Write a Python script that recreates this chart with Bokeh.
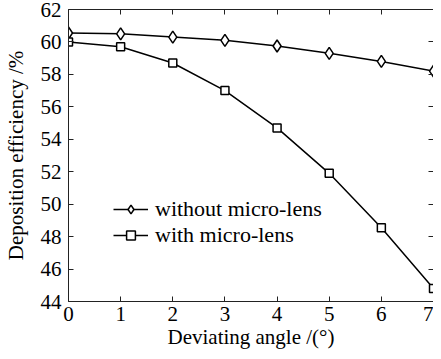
from bokeh.plotting import figure
from bokeh.models import LinearAxis, Range1d, Legend, LegendItem, FixedTicker, CustomJSTickFormatter
from bokeh.embed import file_html
from bokeh.resources import INLINE

angles = [0, 1, 2, 3, 4, 5, 6, 7]
without_lens = [60.55, 60.5, 60.3, 60.1, 59.75, 59.3, 58.8, 58.2]
with_lens = [60.0, 59.7, 58.7, 57.0, 54.7, 51.9, 48.55, 44.8]
x_ticks = [0, 1, 2, 3, 4, 5, 6, 7]
y_ticks = [44, 46, 48, 50, 52, 54, 56, 58, 60, 62]

FONT = "Liberation Serif"

p = figure(width=433, height=351, output_backend="svg", toolbar_location=None,
           x_range=Range1d(0, 7), y_range=Range1d(44, 62),
           min_border_left=60, min_border_right=0, min_border_top=9, min_border_bottom=0,
           x_axis_label="Deviating angle /(°)", y_axis_label="Deposition efficiency /%")
p.outline_line_color = None
p.xgrid.visible = False
p.ygrid.visible = False
p.background_fill_color = "white"
p.border_fill_color = "white"

for ax in (p.xaxis[0], p.yaxis[0]):
    ax.major_tick_in = 5
    ax.major_tick_out = 0
    ax.minor_tick_line_color = None
    ax.axis_line_color = "#222222"
    ax.major_tick_line_color = "#222222"
    ax.major_label_text_font = FONT
    ax.major_label_text_font_size = "21px"
    ax.major_label_text_color = "black"
    ax.axis_label_text_font = FONT
    ax.axis_label_text_font_size = "21px"
    ax.axis_label_text_font_style = "normal"
    ax.axis_label_text_color = "black"
p.xaxis[0].ticker = FixedTicker(ticks=x_ticks)
p.yaxis[0].ticker = FixedTicker(ticks=y_ticks)
p.xaxis[0].major_label_standoff = 5
p.yaxis[0].major_label_standoff = 7
p.xaxis[0].axis_label_standoff = 1
p.yaxis[0].axis_label_standoff = 10

blank = CustomJSTickFormatter(code="return ''")
for side, ticks, standoff in (("above", x_ticks, 6), ("right", y_ticks, 0)):
    ax = LinearAxis(ticker=FixedTicker(ticks=ticks), major_tick_in=5, major_tick_out=0,
                    minor_tick_line_color=None, formatter=blank,
                    major_label_text_font_size="1px",
                    major_label_standoff=standoff, axis_line_color="#222222",
                    major_tick_line_color="#222222")
    p.add_layout(ax, side)

l1 = p.line(angles, without_lens, line_color="black", line_width=1.5)
k1 = p.scatter(angles, without_lens, marker="diamond", size=12, fill_color="white",
               line_color="black", line_width=1.5)
l2 = p.line(angles, with_lens, line_color="black", line_width=1.5)
k2 = p.scatter(angles, with_lens, marker="square", size=8, fill_color="white",
               line_color="black", line_width=1.5)

legend = Legend(items=[LegendItem(label="without micro-lens", renderers=[l1, k1]),
                       LegendItem(label="with micro-lens", renderers=[l2, k2])],
                location=(45, 53), border_line_alpha=0, background_fill_alpha=0,
                label_text_font=FONT, label_text_font_size="22px", label_text_color="black",
                glyph_width=35, padding=0, spacing=-4, label_height=22, glyph_height=22,
                label_standoff=7, margin=0)
p.add_layout(legend, "center")

open("out.html", "w").write(file_html(p, INLINE))
